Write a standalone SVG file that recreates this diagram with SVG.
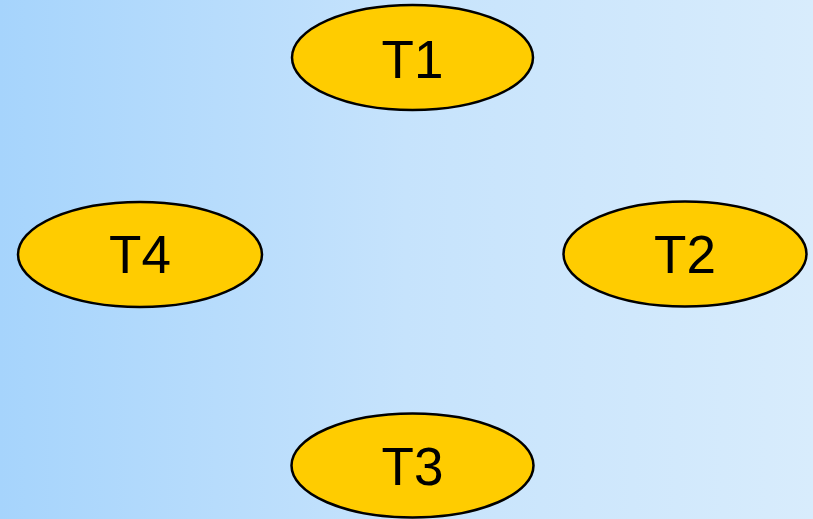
<svg xmlns="http://www.w3.org/2000/svg" width="813" height="519" viewBox="0 0 813 519">
<defs>
<linearGradient id="bg" x1="0" y1="0" x2="1" y2="0">
<stop offset="0" stop-color="#a6d4fc"/>
<stop offset="0.5" stop-color="#c6e3fc"/>
<stop offset="1" stop-color="#d8ecfc"/>
</linearGradient>
<style>
.node ellipse{fill:#ffcc00;stroke:#000;stroke-width:2.5}
.node text{font-family:"Liberation Sans",Arial,sans-serif;font-size:53px;fill:#000;text-anchor:middle}
</style>
</defs>
<rect width="813" height="519" fill="url(#bg)"/>
<g id="connectors"></g>
<g id="T1" class="node"><ellipse cx="412.5" cy="57.5" rx="120.5" ry="52.5"/><text x="412.5" y="78">T1</text></g>
<g id="T4" class="node"><ellipse cx="140" cy="254.5" rx="122" ry="52.5"/><text x="140" y="273">T4</text></g>
<g id="T2" class="node"><ellipse cx="685" cy="254" rx="121.5" ry="52.5"/><text x="685" y="273">T2</text></g>
<g id="T3" class="node"><ellipse cx="412.5" cy="465.5" rx="121" ry="52"/><text x="412.5" y="485">T3</text></g>
</svg>
